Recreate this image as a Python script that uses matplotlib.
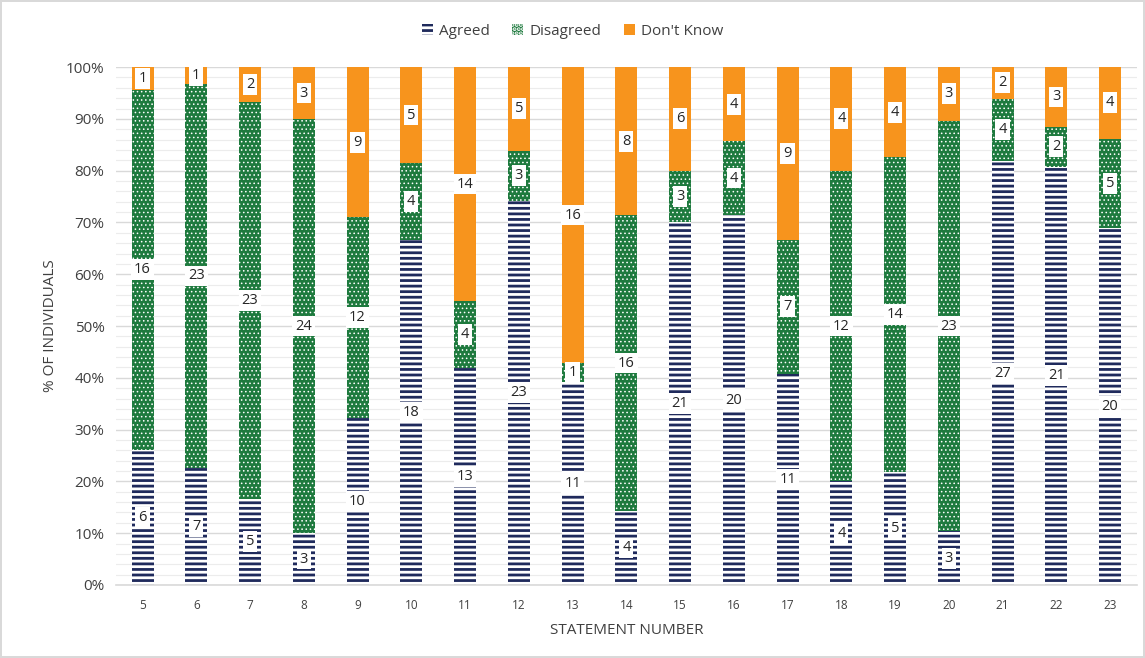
import matplotlib.pyplot as plt
import numpy as np
from matplotlib.ticker import MultipleLocator, PercentFormatter

statements = [5, 6, 7, 8, 9, 10, 11, 12, 13, 14, 15, 16, 17, 18, 19, 20, 21, 22, 23]
agreed = [6, 7, 5, 3, 10, 18, 13, 23, 11, 4, 21, 20, 11, 4, 5, 3, 27, 21, 20]
disagreed = [16, 23, 23, 24, 12, 4, 4, 3, 1, 16, 3, 4, 7, 12, 14, 23, 4, 2, 5]
dont_know = [1, 1, 2, 3, 9, 5, 14, 5, 16, 8, 6, 4, 9, 4, 4, 3, 2, 3, 4]

plt.rcParams['font.family'] = ['Open Sans', 'DejaVu Sans']
plt.rcParams['hatch.linewidth'] = 2.0

a = np.array(agreed, dtype=float)
d = np.array(disagreed, dtype=float)
k = np.array(dont_know, dtype=float)
tot = a + d + k
pa, pd_, pk = a / tot * 100, d / tot * 100, k / tot * 100

fig = plt.figure(figsize=(11.45, 6.58), dpi=100)
fig.patch.set_edgecolor('#d9d9d9')
fig.patch.set_linewidth(1.5)
ax = fig.add_axes([0.101, 0.111, 0.892, 0.787])

x = np.array(statements)
w = 0.41
b1 = ax.bar(x, pa, w, facecolor='white', edgecolor='#1f2a5c', hatch='---', linewidth=0, label='Agreed', zorder=2)
b2 = ax.bar(x, pd_, w, bottom=pa, facecolor='#1e7a3e', edgecolor='white', hatch='....', linewidth=0, label='Disagreed', zorder=2)
b3 = ax.bar(x, pk, w, bottom=pa + pd_, facecolor='#f7941d', edgecolor='#f7941d', linewidth=0, label="Don't Know", zorder=2)
for p in b2.patches:
    try:
        p.set_hatch_linewidth(0.6)
    except AttributeError:
        pass

box = dict(boxstyle='square,pad=0.2', facecolor='white', edgecolor='none')
for vals, pcts, bots in [(agreed, pa, np.zeros(len(x))), (disagreed, pd_, pa), (dont_know, pk, pa + pd_)]:
    for xi, v, p, b in zip(x, vals, pcts, bots):
        ax.text(xi, b + p / 2, str(v), ha='center', va='center', fontsize=10.5, color='#262626', bbox=box, zorder=4)

ax.set_xlim(4.5, 23.5)
ax.set_ylim(0, 100)
ax.set_xticks(x)
ax.set_xticklabels([str(s) for s in statements], fontsize=8.5, color='#404040')
ax.yaxis.set_major_locator(MultipleLocator(10))
ax.yaxis.set_minor_locator(MultipleLocator(2))
ax.yaxis.set_major_formatter(PercentFormatter(decimals=0))
ax.tick_params(axis='y', labelsize=11, colors='#404040', length=0, which='both', pad=8)
ax.tick_params(axis='x', length=0, pad=10)
ax.grid(axis='y', which='major', color='#d9d9d9', linewidth=1, zorder=0)
ax.grid(axis='y', which='minor', color='#ececec', linewidth=0.8, zorder=0)
for s in ['top', 'right', 'left']:
    ax.spines[s].set_visible(False)
ax.spines['bottom'].set_color('#d9d9d9')
ax.spines['bottom'].set_linewidth(1.2)
ax.set_axisbelow(True)

ax.set_ylabel('% OF INDIVIDUALS', fontsize=11, color='#404040', labelpad=6)
ax.set_xlabel('STATEMENT NUMBER', fontsize=11, color='#404040', labelpad=8)

leg = fig.legend(handles=[b1, b2, b3], loc='upper center', bbox_to_anchor=(0.5, 0.985), ncol=3,
                 frameon=False, fontsize=11, handlelength=0.7, handleheight=0.7, columnspacing=1.5, handletextpad=0.4)
for t in leg.get_texts():
    t.set_color('#404040')

fig.savefig('out.png', dpi=100)
